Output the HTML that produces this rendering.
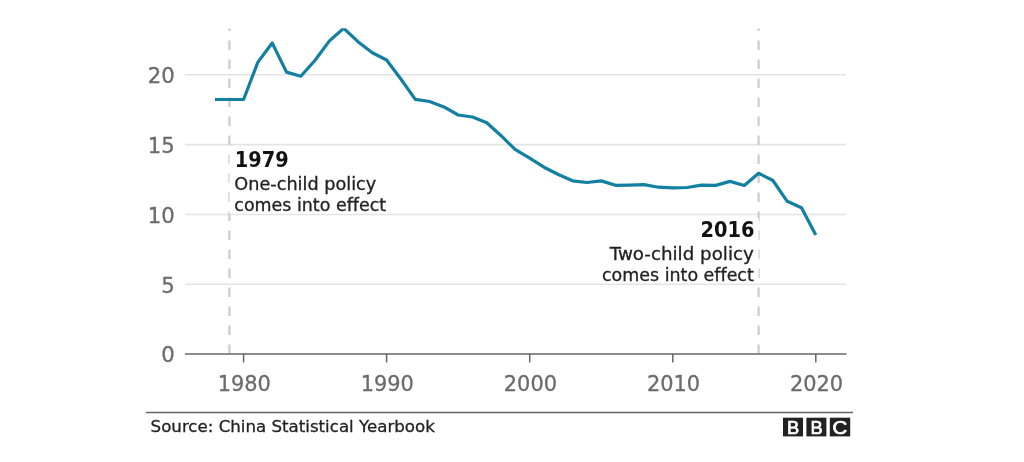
<!DOCTYPE html>
<html><head><meta charset="utf-8"><title>China birth rate</title>
<style>
html,body{margin:0;padding:0;background:#fff;}
svg{display:block}
.ax text{font-family:"DejaVu Sans","Liberation Sans",sans-serif;font-size:21.4px;fill:#6b6b6b;stroke:#6b6b6b;stroke-width:0.3px}
.an,.anb{font-variant-ligatures:none}
.an{font-family:"DejaVu Sans","Liberation Sans",sans-serif;font-size:17.4px;fill:#222;stroke:#222;stroke-width:0.3px}
.anb{font-family:"DejaVu Sans","Liberation Sans",sans-serif;font-weight:bold;font-size:21.5px;fill:#111}
</style></head><body>
<svg width="1024" height="462" viewBox="0 0 1024 462">
<rect width="1024" height="462" fill="#fff"/>
<g stroke="#e4e4e4" stroke-width="1.6"><line x1="185" x2="846" y1="284.3" y2="284.3"/><line x1="185" x2="846" y1="214.5" y2="214.5"/><line x1="185" x2="846" y1="144.6" y2="144.6"/><line x1="185" x2="846" y1="74.8" y2="74.8"/></g>
<g stroke="#cccccc" stroke-width="2.2" stroke-dasharray="9.5 9.5">
<line x1="229.4" x2="229.4" y1="354" y2="28.5"/>
<line x1="758.6" x2="758.6" y1="354" y2="28.5"/>
</g>
<rect x="229.5" y="148" width="4" height="65.5" fill="#fff"/><rect x="754.5" y="218" width="4" height="65.3" fill="#fff"/>
<g class="ax" text-anchor="end"><text x="174.8" y="362.4" textLength="13.5" lengthAdjust="spacingAndGlyphs">0</text><text x="174.8" y="292.6" textLength="13.5" lengthAdjust="spacingAndGlyphs">5</text><text x="174.8" y="222.8" textLength="27.0" lengthAdjust="spacingAndGlyphs">10</text><text x="174.8" y="152.9" textLength="27.0" lengthAdjust="spacingAndGlyphs">15</text><text x="174.8" y="83.1" textLength="27.0" lengthAdjust="spacingAndGlyphs">20</text></g>
<g stroke="#666" stroke-width="1.5"><line x1="185" x2="846.5" y1="354.1" y2="354.1"/><line x1="243.6" x2="243.6" y1="354.1" y2="362.5"/><line x1="386.6" x2="386.6" y1="354.1" y2="362.5"/><line x1="529.7" x2="529.7" y1="354.1" y2="362.5"/><line x1="672.8" x2="672.8" y1="354.1" y2="362.5"/><line x1="815.8" x2="815.8" y1="354.1" y2="362.5"/></g>
<g class="ax" text-anchor="middle"><text x="244.3" y="390.5" textLength="53.2" lengthAdjust="spacingAndGlyphs">1980</text><text x="387.3" y="390.5" textLength="53.2" lengthAdjust="spacingAndGlyphs">1990</text><text x="530.4" y="390.5" textLength="53.2" lengthAdjust="spacingAndGlyphs">2000</text><text x="673.5" y="390.5" textLength="53.2" lengthAdjust="spacingAndGlyphs">2010</text><text x="816.5" y="390.5" textLength="53.2" lengthAdjust="spacingAndGlyphs">2020</text></g>
<clipPath id="cp"><rect x="180" y="28.3" width="680" height="330"/></clipPath>
<polyline clip-path="url(#cp)" fill="none" stroke="#1380a1" stroke-width="3.2" stroke-linejoin="round" points="215.0,99.5 243.6,99.5 257.9,62.1 272.2,43.0 286.5,72.1 300.8,76.2 315.1,60.3 329.4,40.9 343.7,28.3 358.0,41.7 372.3,52.7 386.6,60.0 401.0,79.3 415.3,99.4 429.6,101.5 443.9,106.9 458.2,115.0 472.5,117.0 486.8,122.7 501.1,135.7 515.4,149.7 529.7,158.2 544.0,167.2 558.3,174.5 572.6,180.8 586.9,182.5 601.2,180.9 615.5,185.3 629.8,185.1 644.1,184.6 658.4,187.2 672.8,187.9 687.1,187.5 701.4,185.1 715.7,185.4 730.0,181.4 744.3,185.5 758.6,173.3 772.9,180.5 787.2,201.3 801.5,207.7 815.8,235.1"/>
<g>
<text class="anb" x="234.8" y="166.5" textLength="54" lengthAdjust="spacingAndGlyphs">1979</text>
<text class="an" x="234.3" y="190" textLength="142" lengthAdjust="spacingAndGlyphs">One-child policy</text>
<text class="an" x="234.3" y="210.6" textLength="151.8" lengthAdjust="spacingAndGlyphs">comes into effect</text>
<text class="anb" x="754.6" y="236.7" text-anchor="end" textLength="54" lengthAdjust="spacingAndGlyphs">2016</text>
<text class="an" x="753.8" y="260" text-anchor="end" textLength="144" lengthAdjust="spacingAndGlyphs">Two-child policy</text>
<text class="an" x="753.8" y="280.5" text-anchor="end" textLength="151.8" lengthAdjust="spacingAndGlyphs">comes into effect</text>
</g>
<line x1="146" x2="853" y1="412.5" y2="412.5" stroke="#666" stroke-width="1.6"/>
<text x="150.6" y="432" textLength="284.2" lengthAdjust="spacingAndGlyphs" style="font-family:'DejaVu Sans','Liberation Sans',sans-serif;font-size:16.5px;fill:#222;stroke:#222;stroke-width:0.3px">Source: China Statistical Yearbook</text>
<g fill="#222"><rect x="783" y="417.7" width="20" height="18.7"/><rect x="806.4" y="417.7" width="20" height="18.7"/><rect x="829.8" y="417.7" width="20.4" height="18.7"/></g>
<g style="font-family:'Liberation Sans',sans-serif;font-size:18.3px;fill:#fff;stroke:#fff;stroke-width:0.7px" text-anchor="middle">
<text x="793.2" y="433.8">B</text><text x="816.6" y="433.8">B</text><text transform="translate(840 433.8) scale(1.12 1)" x="0" y="0">C</text></g>
</svg>
</body></html>
